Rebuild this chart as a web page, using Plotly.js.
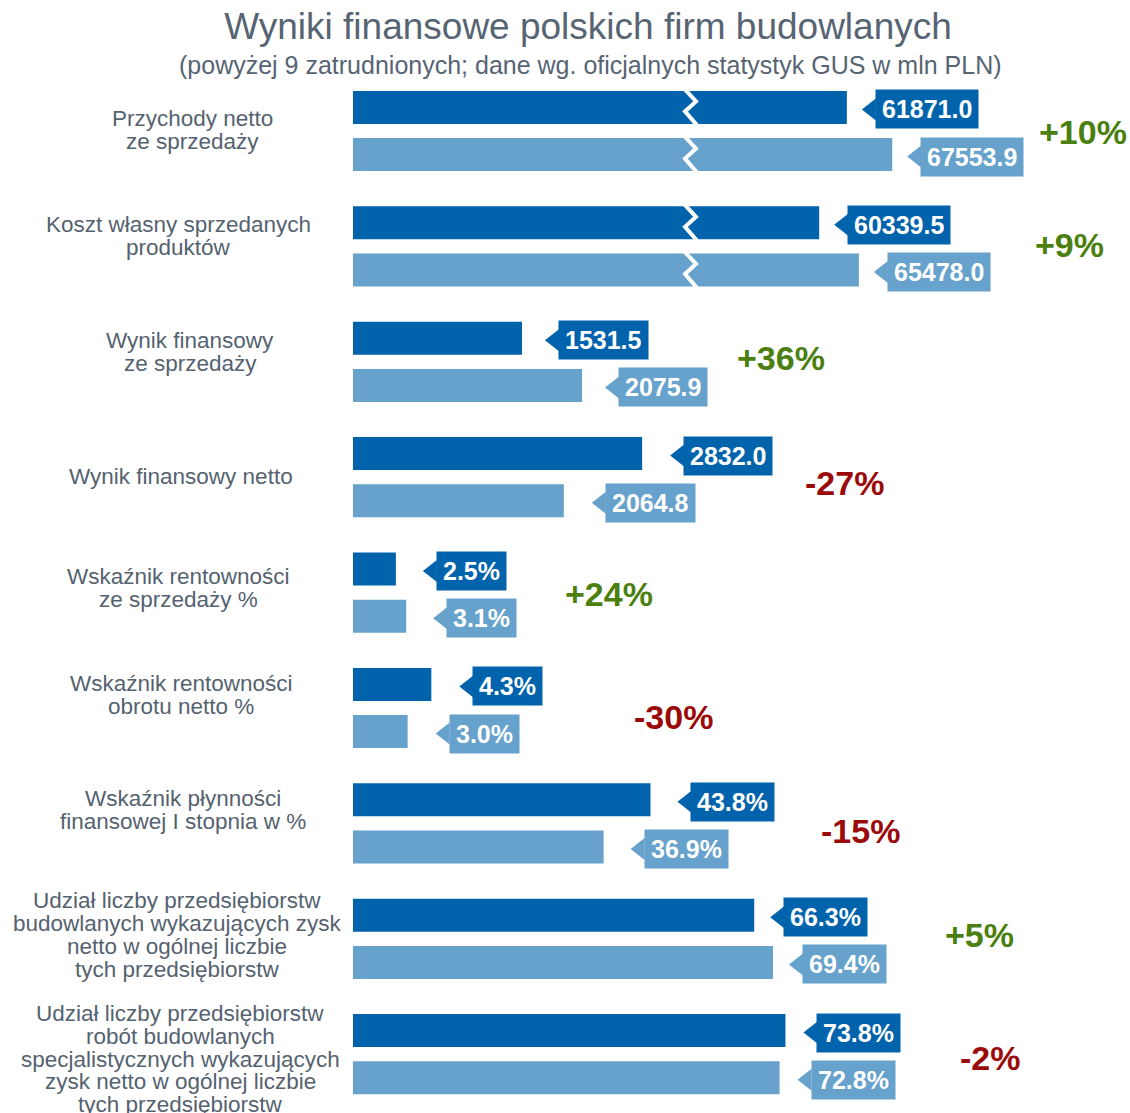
<!DOCTYPE html>
<html>
<head>
<meta charset="utf-8">
<script src="https://cdn.plot.ly/plotly-3.0.1.min.js"></script>
<style>html,body{margin:0;padding:0;background:#fff}</style>
</head>
<body>
<div id="chart" style="width:1130px;height:1113px"></div>
<script>
// ---- DATA ----
const categories = [
  "Przychody netto<br>ze sprzedaży",
  "Koszt własny sprzedanych<br>produktów",
  "Wynik finansowy<br>ze sprzedaży",
  "Wynik finansowy netto",
  "Wskaźnik rentowności<br>ze sprzedaży %",
  "Wskaźnik rentowności<br>obrotu netto %",
  "Wskaźnik płynności<br>finansowej I stopnia w %",
  "Udział liczby przedsiębiorstw<br>budowlanych wykazujących zysk<br>netto w ogólnej liczbie<br>tych przedsiębiorstw",
  "Udział liczby przedsiębiorstw<br>robót budowlanych<br>specjalistycznych wykazujących<br>zysk netto w ogólnej liczbie<br>tych przedsiębiorstw"
];
const periods = ["okres poprzedni", "okres bieżący"];
const valuesPrev = [61871.0, 60339.5, 1531.5, 2832.0, 2.5, 4.3, 43.8, 66.3, 73.8];
const valuesCurr = [67553.9, 65478.0, 2075.9, 2064.8, 3.1, 3.0, 36.9, 69.4, 72.8];
const units = ["", "", "", "", "%", "%", "%", "%", "%"];
const changes = ["+10%", "+9%", "+36%", "-27%", "+24%", "-30%", "-15%", "+5%", "-2%"];

// ---- LAYOUT / STYLE ----
const W = 1130, H = 1113;
const DARK = "#0263ad", LIGHT = "#66a2cb";
const TEXT = "#55626f", GREEN = "#4b7f10", RED = "#9b0a0a";
const FONT = "Liberation Sans, Arial, sans-serif";
const axisMax = [97345, 100573, 7042, 7610, 45.3, 42.65, 114.4, 128.4, 132.6];
const brokenAxis = [true, true, false, false, false, false, false, false, false];
const labelGap = [15, 15, 23, 28, 27, 28, 27, 16, 18];
const catLabelX = [192, 178, 190, 181, 178, 181, 183, 177, 180];
const catLabelY = [130, 236, 352, 476, 588, 695, 810, 935, 1059];
const pctX = [1083, 1069, 781, 844, 609, 673, 860, 979, 990];
const pctY = [132, 245, 358, 483, 594, 717, 831, 935, 1058];
const groupTop = 131, groupStep = 115.4, halfGroup = 47.2;
const plotLeft = 353;

const data = [];
const annotations = [];
const shapes = [];
const layout = {
  width: W, height: H,
  margin: {l: 0, r: 0, t: 0, b: 0},
  paper_bgcolor: "#fff", plot_bgcolor: "rgba(0,0,0,0)",
  showlegend: false,
  font: {family: FONT, color: TEXT},
  title: {
    text: "Wyniki finansowe polskich firm budowlanych",
    x: 588 / W, xanchor: "center", y: 1 - 26 / H, yanchor: "middle",
    font: {family: FONT, size: 37, color: "#566473"}
  },
  annotations: annotations,
  shapes: shapes
};

annotations.push({
  xref: "paper", yref: "paper", x: 590 / W, y: 1 - 65 / H,
  xanchor: "center", yanchor: "middle", showarrow: false,
  text: "(powyżej 9 zatrudnionych; dane wg. oficjalnych statystyk GUS w mln PLN)",
  font: {family: FONT, size: 25, color: "#566473"}
});

const domFrac = [0.75, 0.25];   // position of each period inside its group's y domain
const colors = [DARK, LIGHT];

categories.forEach((cat, i) => {
  const sfx = i === 0 ? "" : String(i + 1);
  const xa = "x" + sfx, ya = "y" + sfx;
  const c = groupTop + i * groupStep;
  layout["xaxis" + sfx] = {
    domain: [plotLeft / W, 1], range: [0, axisMax[i]], visible: false,
    fixedrange: true, anchor: ya
  };
  layout["yaxis" + sfx] = {
    domain: [1 - (c + halfGroup) / H, 1 - (c - halfGroup) / H],
    type: "category", categoryorder: "array", categoryarray: periods,
    range: [1.5, -0.5], visible: false, fixedrange: true, anchor: xa
  };
  const vals = [valuesPrev[i], valuesCurr[i]];
  data.push({
    type: "bar", orientation: "h", x: vals, y: periods,
    xaxis: xa, yaxis: ya, width: 0.7,
    marker: {color: colors, line: {width: 0}},
    hoverinfo: "x+y", name: cat.replace(/<br>/g, " ")
  });

  vals.forEach((v, k) => {
    const g = labelGap[i];
    // value label box
    annotations.push({
      xref: xa, yref: ya + " domain", x: v, y: domFrac[k],
      xanchor: "left", yanchor: "middle", xshift: g + 13, yshift: -2,
      showarrow: false, bgcolor: colors[k], borderpad: 6, height: 26,
      text: "<b>" + v.toFixed(1) + units[i] + "</b>",
      font: {family: FONT, size: 25, color: "#ffffff"}
    });
    // pointer notch of the label box
    shapes.push({
      type: "path", xref: xa, yref: ya + " domain",
      xsizemode: "pixel", ysizemode: "pixel", xanchor: v, yanchor: domFrac[k],
      path: `M ${g},-2 L ${g + 14},9 L ${g + 14},-13 Z`,
      fillcolor: colors[k], line: {width: 0}, layer: "above"
    });
    // broken-axis mark
    if (brokenAxis[i]) {
      shapes.push({
        type: "path", xref: "paper", yref: ya + " domain",
        xsizemode: "pixel", ysizemode: "pixel", xanchor: 690 / W, yanchor: domFrac[k],
        path: "M -6,19 L 6,6 L -5,-4 L 8,-19",
        line: {color: "#ffffff", width: 4}, layer: "above"
      });
    }
  });

  // category label (one annotation per line for tight line spacing)
  const lines = cat.split("<br>");
  lines.forEach((ln, j) => {
    const yy = catLabelY[i] + (j - (lines.length - 1) / 2) * 22.7;
    annotations.push({
      xref: "paper", yref: "paper", x: catLabelX[i] / W, y: 1 - yy / H,
      xanchor: "center", yanchor: "middle", showarrow: false,
      text: ln, font: {family: FONT, size: 22.5, color: TEXT}
    });
  });

  // change label
  annotations.push({
    xref: "paper", yref: "paper", x: pctX[i] / W, y: 1 - pctY[i] / H,
    xanchor: "center", yanchor: "middle", showarrow: false,
    text: "<b>" + changes[i] + "</b>",
    font: {family: FONT, size: 34, color: changes[i].startsWith("-") ? RED : GREEN}
  });
});

Plotly.newPlot("chart", data, layout, {displayModeBar: false, staticPlot: true});
</script>
</body>
</html>
